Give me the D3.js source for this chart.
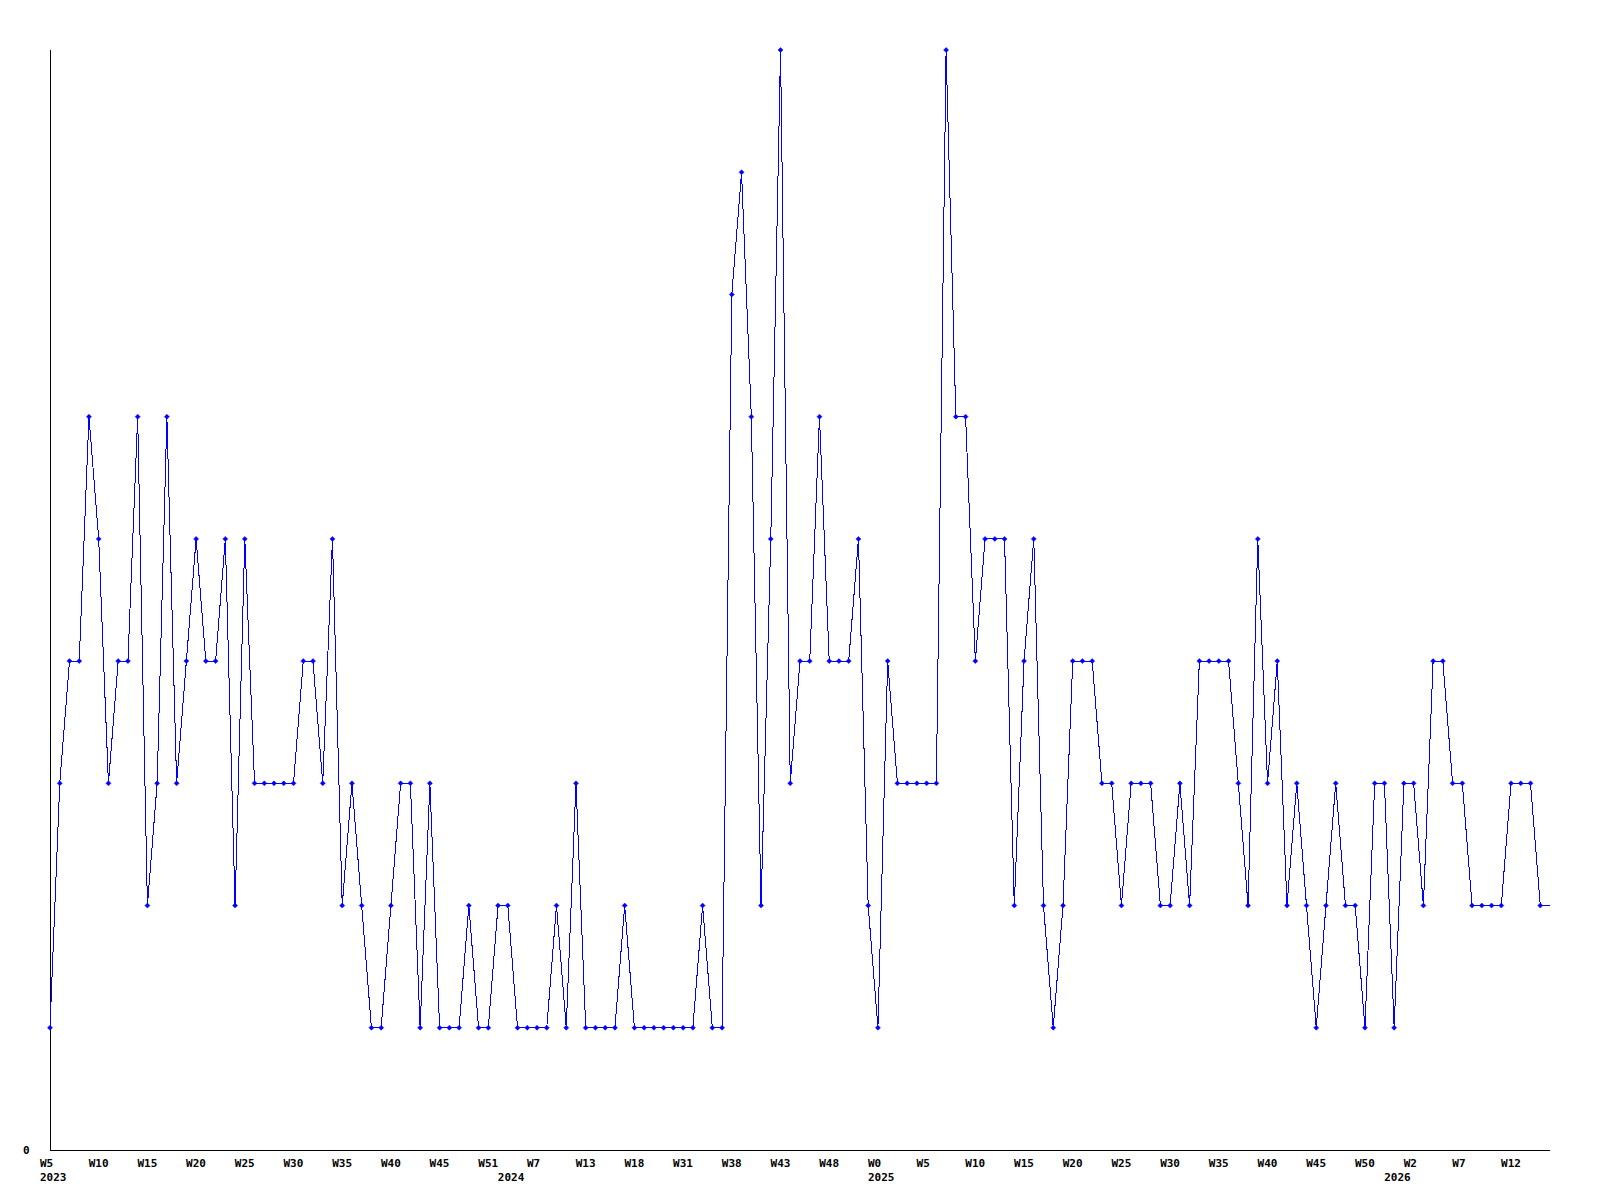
<!DOCTYPE html>
<html>
<head>
<meta charset="utf-8">
<script src="https://cdn.jsdelivr.net/npm/d3@7/dist/d3.min.js"></script>
<style>
  body { margin: 0; background: #fff; }
  text { font-family: "DejaVu Sans Mono", "Liberation Mono", monospace; font-weight: bold; font-size: 11px; }
</style>
</head>
<body>
<svg id="chart"></svg>
<script>
const width = 1600;
const height = 1200;
const margin = { top: 50, right: 50, bottom: 50, left: 50 };
const blue = "#0000ff";

// weekly counts, 2023 W5 .. 2026
const values = [
  1, 3, 4, 4, 6, 5, 3, 4, 4, 6, 2, 3, 6, 3, 4, 5, 4, 4, 5, 2, 5, 3, 3, 3, 3, 3,
  4, 4, 3, 5, 2, 3, 2, 1, 1, 2, 3, 3, 1, 3, 1, 1, 1, 2, 1, 1, 2, 2, 1, 1, 1, 1,
  2, 1, 3, 1, 1, 1, 1, 2, 1, 1, 1, 1, 1, 1, 1, 2, 1, 1, 7, 8, 6, 2, 5, 9, 3,
  4, 4, 6, 4, 4, 4, 5, 2, 1, 4, 3, 3, 3, 3, 3, 9, 6, 6, 4, 5, 5, 5, 2, 4, 5, 2,
  1, 2, 4, 4, 4, 3, 3, 2, 3, 3, 3, 2, 2, 3, 2, 4, 4, 4, 4, 3, 2, 5, 3, 4, 2, 3,
  2, 1, 2, 3, 2, 2, 1, 3, 3, 1, 3, 3, 2, 4, 4, 3, 3, 2, 2, 2, 2, 3, 3, 3, 2
];

// a week label on every 5th point
const weekLabels = [
  "W5", "W10", "W15", "W20", "W25", "W30", "W35", "W40", "W45", "W51",
  "W7", "W13", "W18", "W31", "W38", "W43", "W48",
  "W0", "W5", "W10", "W15", "W20", "W25", "W30", "W35", "W40", "W45", "W50",
  "W2", "W7", "W12"
];
const labelEvery = 5;

// first point of each year
const yearLabels = ["2023", "2024", "2025", "2026"];
const yearStart = [0, 47, 85, 138];

const yMax = 9;

const svg = d3.select("#chart").attr("width", width).attr("height", height);

const x = d3.scaleLinear()
  .domain([0, values.length])
  .range([margin.left, width - margin.right]);

const y = d3.scaleLinear()
  .domain([0, yMax])
  .range([height - margin.bottom, margin.top]);

// axes: plain lines, only "0" on y
svg.append("line")
  .attr("x1", x(0)).attr("x2", x(0))
  .attr("y1", y(0)).attr("y2", y(yMax))
  .attr("stroke", "#000").attr("shape-rendering", "crispEdges");

svg.append("line")
  .attr("x1", x(0)).attr("x2", x(values.length))
  .attr("y1", y(0)).attr("y2", y(0))
  .attr("stroke", "#000").attr("shape-rendering", "crispEdges");

svg.append("text")
  .attr("x", x(0) - 27)
  .attr("y", y(0) + 4)
  .text("0");

svg.append("g")
  .selectAll("text")
  .data(weekLabels)
  .join("text")
  .attr("x", (d, i) => x(i * labelEvery) - 10)
  .attr("y", y(0) + 17)
  .text((d) => d);

svg.append("g")
  .selectAll("text")
  .data(yearLabels)
  .join("text")
  .attr("x", (d, i) => x(yearStart[i]) - 10)
  .attr("y", y(0) + 31)
  .text((d) => d);

// line runs on to the end of the axis at the last value
const lineData = values.map((v, i) => [i, v]);
lineData.push([values.length, values[values.length - 1]]);

const line = d3.line()
  .x((d) => x(d[0]))
  .y((d) => y(d[1]));

svg.append("path")
  .datum(lineData)
  .attr("d", line)
  .attr("fill", "none")
  .attr("stroke", blue)
  .attr("stroke-width", 1)
  .attr("shape-rendering", "crispEdges");

svg.append("g")
  .selectAll("path")
  .data(values)
  .join("path")
  .attr("transform", (d, i) => `translate(${x(i)},${y(d)})`)
  .attr("d", "M0,-2.5L2.5,0L0,2.5L-2.5,0Z")
  .attr("fill", blue)
  .attr("stroke", blue)
  .attr("stroke-width", 0.5);
</script>
</body>
</html>
